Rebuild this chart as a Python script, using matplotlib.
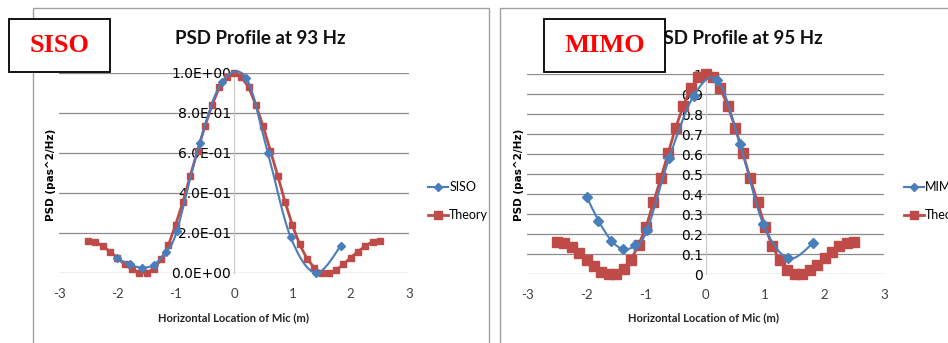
import matplotlib.pyplot as plt
from matplotlib.lines import Line2D
from matplotlib.patches import PathPatch, Rectangle
from matplotlib.path import Path

# microphone positions (m) of the theoretical profile
theory_x = [-2.5, -2.375, -2.25, -2.125, -2.0, -1.875, -1.75, -1.625, -1.5, -1.375,
            -1.25, -1.125, -1.0, -0.875, -0.75, -0.625, -0.5, -0.375, -0.25, -0.125,
            0.0, 0.125, 0.25, 0.375, 0.5, 0.625, 0.75, 0.875, 1.0, 1.125,
            1.25, 1.375, 1.5, 1.625, 1.75, 1.875, 2.0, 2.125, 2.25, 2.375, 2.5]

theory_93 = [0.160, 0.155, 0.135, 0.107, 0.077, 0.043, 0.018, 0.002, 0.0, 0.022,
             0.068, 0.139, 0.242, 0.356, 0.486, 0.610, 0.733, 0.840, 0.930, 0.980,
             1.0, 0.980, 0.930, 0.840, 0.733, 0.610, 0.486, 0.356, 0.240, 0.143,
             0.072, 0.027, 0.0, 0.0, 0.015, 0.043, 0.077, 0.107, 0.135, 0.157, 0.160]

theory_95 = [0.160, 0.155, 0.135, 0.105, 0.072, 0.038, 0.008, 0.0, 0.0, 0.025,
             0.072, 0.146, 0.233, 0.358, 0.479, 0.607, 0.732, 0.840, 0.928, 0.983,
             1.0, 0.983, 0.928, 0.840, 0.732, 0.607, 0.479, 0.358, 0.237, 0.138,
             0.068, 0.018, 0.0, 0.0, 0.018, 0.045, 0.080, 0.110, 0.138, 0.155, 0.160]

# measured profiles
siso_x = [-2.0, -1.79, -1.58, -1.38, -1.17, -0.98, -0.59, -0.21, 0.21, 0.58, 0.97, 1.4, 1.83]
siso_y = [0.073, 0.043, 0.027, 0.040, 0.105, 0.210, 0.650, 0.953, 0.975, 0.600, 0.180, 0.0, 0.135]

mimo_x = [-1.99, -1.80, -1.58, -1.38, -1.18, -0.98, -0.61, -0.2, 0.2, 0.58, 0.97, 1.39, 1.81]
mimo_y = [0.383, 0.267, 0.166, 0.125, 0.143, 0.220, 0.580, 0.890, 0.970, 0.650, 0.250, 0.078, 0.155]

BLUE = "#4A7EBB"
RED = "#BE4B48"
NARROW = ["Lato", "DejaVu Sans"]

W, H = 948, 343


def px(x0, y0, x1, y1):
    """figure rect from pixel corners (top-left origin)."""
    return [x0 / W, 1 - y1 / H, (x1 - x0) / W, (y1 - y0) / H]


def smooth_path(xs, ys):
    # Catmull-Rom style bezier, like a spreadsheet "smoothed line"
    pts = list(zip(xs, ys))
    verts = [pts[0]]
    codes = [Path.MOVETO]
    n = len(pts)
    for i in range(n - 1):
        p0 = pts[max(i - 1, 0)]
        p1 = pts[i]
        p2 = pts[i + 1]
        p3 = pts[min(i + 2, n - 1)]
        c1 = (p1[0] + (p2[0] - p0[0]) / 6, p1[1] + (p2[1] - p0[1]) / 6)
        c2 = (p2[0] - (p3[0] - p1[0]) / 6, p2[1] - (p3[1] - p1[1]) / 6)
        verts += [c1, c2, p2]
        codes += [Path.CURVE4] * 3
    return Path(verts, codes)


def panel(fig, rect, title, title_x, xs, ys, name, tx, ty, yticks, ylabels,
          sq_size, dm_size, leg_x, ylab_x, xlab_x):
    ax = fig.add_axes(rect)
    ax.set_xlim(-3, 3)
    ax.set_ylim(0, 1)
    ax.set_yticks(yticks)
    ax.set_yticklabels(ylabels, family=NARROW, fontsize=8.5, color="#404040")
    ax.set_xticks([-3, -2, -1, 0, 1, 2, 3])
    ax.set_xticklabels(["-3", "-2", "-1", "0", "1", "2", "3"], family=NARROW,
                       fontsize=9.5, color="#404040")
    ax.tick_params(axis="y", length=0, pad=2)
    ax.tick_params(axis="x", length=0, pad=11)
    for s in ("top", "right", "bottom"):
        ax.spines[s].set_visible(False)
    ax.spines["left"].set_position(("data", 0))
    ax.spines["left"].set_color("#c8c8c8")
    ax.spines["left"].set_linewidth(0.8)
    ax.grid(axis="y", color="#8c8c8c", linewidth=0.9)
    ax.set_axisbelow(True)
    ax.patch.set_alpha(0)

    ax.plot(tx, ty, color=RED, lw=2.0, marker="s", ms=sq_size, mec=RED, mfc=RED,
            clip_on=False, zorder=3)
    ax.add_patch(PathPatch(smooth_path(xs, ys), fc="none", ec=BLUE, lw=1.5,
                           clip_on=False, zorder=4))
    ax.plot(xs, ys, ls="none", marker="D", ms=dm_size, color=BLUE,
            clip_on=False, zorder=4)

    fig.text(title_x / W, 1 - 38 / H, title, family=NARROW, fontsize=13.5,
             fontweight="bold", ha="center", va="center", color="#111111")
    fig.text(ylab_x / W, 1 - 175 / H, "PSD (pas^2/Hz)", rotation=90,
             fontsize=7.5, fontweight="bold", ha="center", va="center")
    fig.text(xlab_x / W, 1 - 318 / H, "Horizontal Location of Mic (m)",
             family=NARROW, fontsize=8, fontweight="bold", ha="center",
             va="center", color="#222222")

    handles = [
        Line2D([], [], color=BLUE, lw=1.5, marker="D", ms=4),
        Line2D([], [], color=RED, lw=2.0, marker="s", ms=5.5),
    ]
    fig.legend(handles, [name, "Theory"], loc="center left",
               bbox_to_anchor=(leg_x / W, 1 - 201 / H), frameon=False,
               handlelength=1.6, handletextpad=0.1, labelspacing=1.3,
               prop={"family": NARROW, "size": 9}, borderaxespad=0,
               borderpad=0)
    return ax


fig = plt.figure(figsize=(W / 100, H / 100), dpi=100)
fig.patch.set_facecolor("white")

# panel frames
fig.patches.append(Rectangle((33 / W, -0.1), (489 - 33) / W, 1.1 - 8 / H,
                             transform=fig.transFigure, fill=False,
                             ec="#a0a0a0", lw=1.0))
fig.patches.append(Rectangle((500 / W, -0.1), 0.6, 1.1 - 8 / H,
                             transform=fig.transFigure, fill=False,
                             ec="#a0a0a0", lw=1.0))

panel(fig, px(59, 73, 409, 273), "PSD Profile at 93 Hz", 260,
      siso_x, siso_y, "SISO", theory_x, theory_93,
      [0, 0.2, 0.4, 0.6, 0.8, 1.0],
      ["0.0E+00", "2.0E-01", "4.0E-01", "6.0E-01", "8.0E-01", "1.0E+00"],
      4.8, 4.3, 428, 51, 234)

panel(fig, px(527, 74, 884, 274), "PSD Profile at 95 Hz", 737,
      mimo_x, mimo_y, "MIMO", theory_x, theory_95,
      [i / 10 for i in range(11)],
      ["0", "0.1", "0.2", "0.3", "0.4", "0.5", "0.6", "0.7", "0.8", "0.9", "1"],
      6.8, 5.0, 904, 519, 704)

# method tags
for (x0, x1), tag in (((9, 110), "SISO"), ((544, 665), "MIMO")):
    fig.patches.append(Rectangle((x0 / W, 1 - 72 / H), (x1 - x0) / W, 53 / H,
                                 transform=fig.transFigure, fc="white",
                                 ec="black", lw=1.3, zorder=10))
    fig.text((x0 + x1) / 2 / W, 1 - 46 / H, tag, family="Liberation Serif",
             fontsize=19, fontweight="bold", color="#ff0000", ha="center",
             va="center", zorder=11)

fig.savefig("out.png", dpi=100)
